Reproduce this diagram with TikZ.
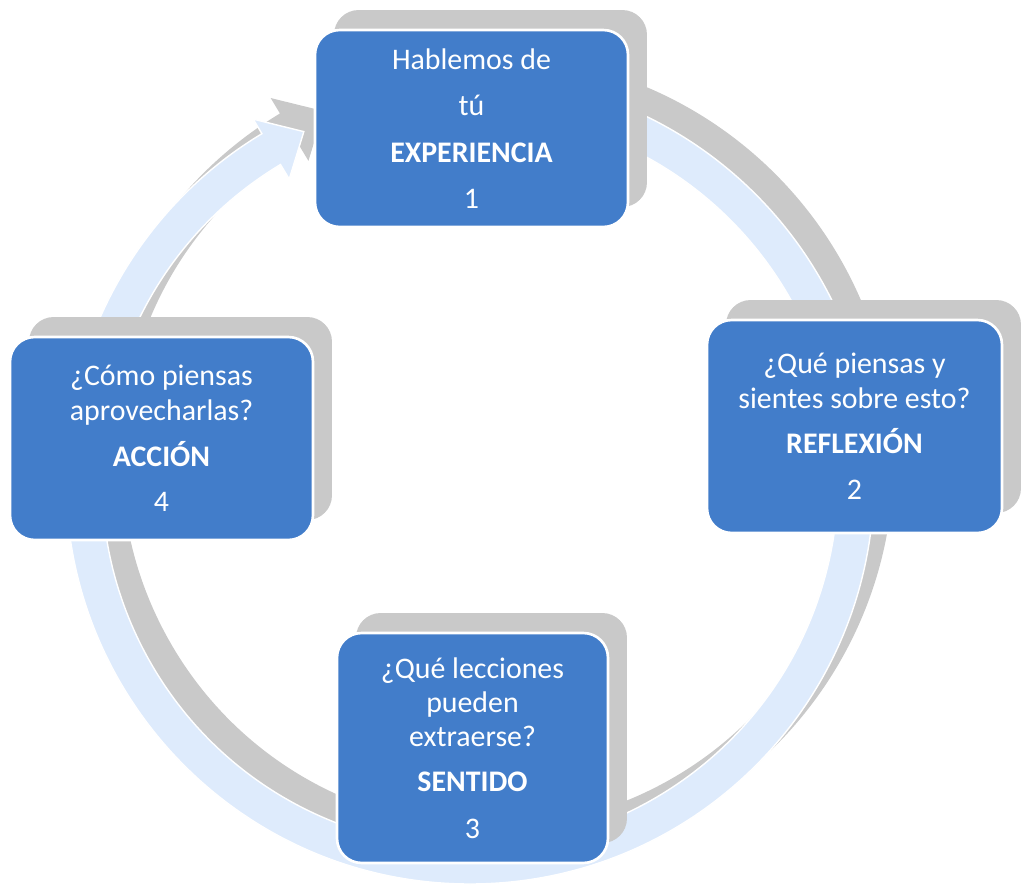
\documentclass[tikz,border=0pt]{standalone}
\usepackage{fontspec}
\setmainfont{Carlito}
\usetikzlibrary{shadows}
\definecolor{boitebleu}{HTML}{427DCA}
\definecolor{anneaubleu}{HTML}{DEEBFC}
\definecolor{ombregris}{HTML}{C9C9C9}

\begin{document}
\begin{tikzpicture}[x=0.02cm, y=0.02cm,
  etape/.style={rectangle, rounded corners=14pt, fill=boitebleu, draw=white,
    line width=1.5pt, text=white, align=center, inner sep=0pt,
    font=\fontsize{17}{19.5}\selectfont,
    drop shadow={shadow xshift=0.38cm, shadow yshift=0.4cm, fill=ombregris,
      draw=none, opacity=1}}]

  \useasboundingbox (0,0) rectangle (1021,890);

  % Anneau (ombre puis fleche)
  \foreach \dx/\dy/\coul/\bord in {19/20/ombregris/ombregris, 0/0/anneaubleu/white} {
    \begin{scope}[shift={(470+\dx,410+\dy)}]
      \filldraw[fill=\coul, draw=\bord, line width=0.8pt]
        (90:404) arc[start angle=90, end angle=-239, radius=404]
        -- (121:421) -- (115.5:386) -- (121:351) -- (121:368)
        arc[start angle=-239, end angle=90, radius=368] -- cycle;
    \end{scope}
  }

  % Etapes
  \node[etape, minimum width=6.26cm, minimum height=3.94cm] (experiencia) at (471.5,761.5)
    {Hablemos de\\[7pt]tú\\[7pt]\textbf{EXPERIENCIA}\\[7pt]1};
  \node[etape, minimum width=5.9cm, minimum height=4.26cm] (reflexion) at (854.5,463.5)
    {¿Qué piensas y\\sientes sobre esto?\\[6pt]\textbf{REFLEXIÓN}\\[7pt]2};
  \node[etape, minimum width=5.42cm, minimum height=4.6cm] (sentido) at (472.5,142)
    {¿Qué lecciones\\pueden\\extraerse?\\[6pt]\textbf{SENTIDO}\\[7pt]3};
  \node[etape, minimum width=6.06cm, minimum height=4.06cm] (accion) at (161.5,451.5)
    {¿Cómo piensas\\aprovecharlas?\\[7pt]\textbf{ACCIÓN}\\[6pt]4};

\end{tikzpicture}
\end{document}
